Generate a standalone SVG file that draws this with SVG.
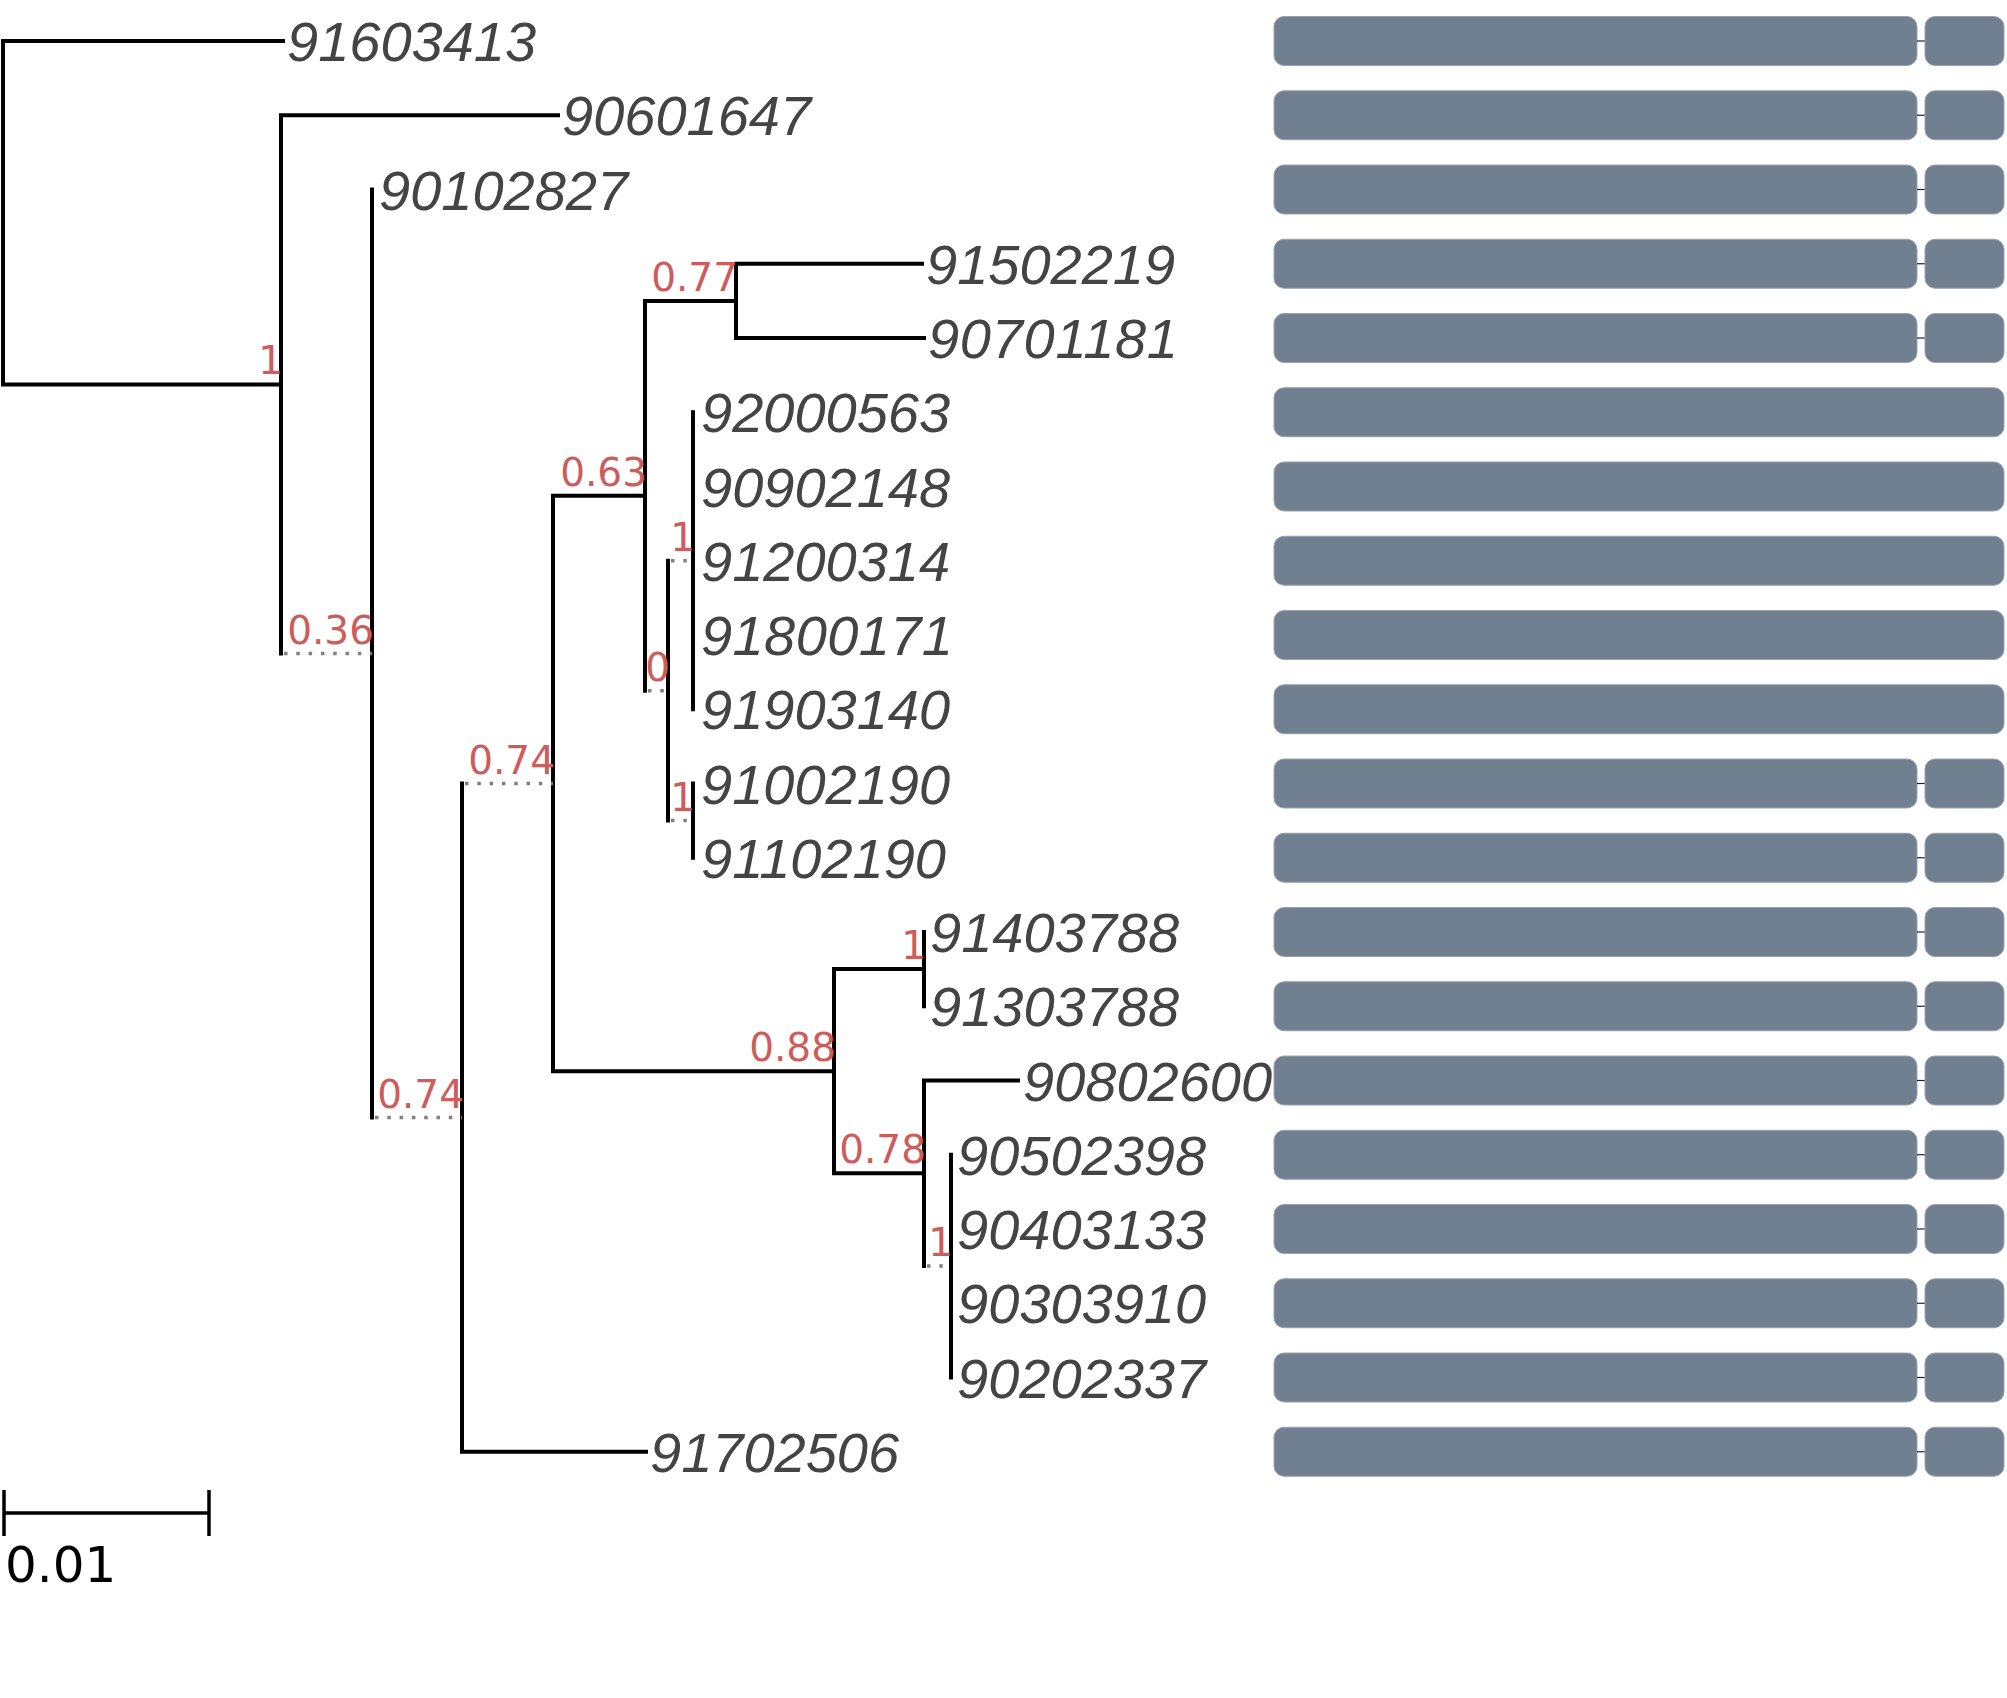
<svg xmlns="http://www.w3.org/2000/svg" width="2007" height="1698" viewBox="0 0 2007 1698">
<style>
.br{fill:none;stroke:#000;stroke-width:4;stroke-linecap:square}
.dt{fill:none;stroke:#808080;stroke-width:3.5;stroke-dasharray:3.5 8.8}
.lf{font-family:"Liberation Sans",Arial,sans-serif;font-style:italic;font-size:56px;fill:#444}
.sp{font-family:"DejaVu Sans",sans-serif;font-size:39px;fill:#cd5c5c;text-anchor:end}
.bar{fill:#708090;stroke:#9aa3ad;stroke-width:1}
.lnk{stroke:#222;stroke-width:1.2}
.sc{font-family:"DejaVu Sans",sans-serif;font-size:50px;fill:#000}
</style>
<rect width="2007" height="1698" fill="#fff"/>
<g id="connectors">
<path class="br" d="M3,41V384.4M3,41H283M3,384.4H281M281,115.25V653.6M281,115.25H558M372,189.5V1117.6M462,783.5V1451.75M462,1451.75H646M553,495.8V1071.2M553,495.8H645M645,300.9V690.7M645,300.9H736M736,263.75V338M736,263.75H922M736,338H924M668,560.75V820.6M693,412.25V709.25M693,783.5V857.75M553,1071.2H834M834,969.1V1173.3M834,969.1H924M924,932V1006.25M834,1173.3H924M924,1080.5V1266.1M924,1080.5H1018M951,1154.75V1377.5"/>
<path class="dt" d="M284,653.6H372M375,1117.6H462M465,783.5H553M648,690.7H668M671,560.75H693M671,820.6H693M927,1266.1H951"/>
</g>
<g id="support">
<text class="sp" x="283" y="374">1</text>
<text class="sp" x="374" y="643.6">0.36</text>
<text class="sp" x="464" y="1107.6">0.74</text>
<text class="sp" x="555" y="773.5">0.74</text>
<text class="sp" x="647" y="485.8">0.63</text>
<text class="sp" x="738" y="290.9">0.77</text>
<text class="sp" x="670" y="680.7">0</text>
<text class="sp" x="695" y="550.75">1</text>
<text class="sp" x="695" y="810.6">1</text>
<text class="sp" x="836" y="1061">0.88</text>
<text class="sp" x="926" y="959">1</text>
<text class="sp" x="926" y="1163">0.78</text>
<text class="sp" x="953" y="1256">1</text>
</g>
<g id="leaf-91603413"><text class="lf" x="287" y="61">91603413</text><rect class="bar" x="1274" y="16.5" width="643" height="49" rx="10"/><line class="lnk" x1="1917" y1="41" x2="1925" y2="41"/><rect class="bar" x="1925" y="16.5" width="79" height="49" rx="10"/></g>
<g id="leaf-90601647"><text class="lf" x="562" y="135.25">90601647</text><rect class="bar" x="1274" y="90.75" width="643" height="49" rx="10"/><line class="lnk" x1="1917" y1="115.25" x2="1925" y2="115.25"/><rect class="bar" x="1925" y="90.75" width="79" height="49" rx="10"/></g>
<g id="leaf-90102827"><text class="lf" x="379" y="209.5">90102827</text><rect class="bar" x="1274" y="165" width="643" height="49" rx="10"/><line class="lnk" x1="1917" y1="189.5" x2="1925" y2="189.5"/><rect class="bar" x="1925" y="165" width="79" height="49" rx="10"/></g>
<g id="leaf-91502219"><text class="lf" x="926" y="283.75">91502219</text><rect class="bar" x="1274" y="239.25" width="643" height="49" rx="10"/><line class="lnk" x1="1917" y1="263.75" x2="1925" y2="263.75"/><rect class="bar" x="1925" y="239.25" width="79" height="49" rx="10"/></g>
<g id="leaf-90701181"><text class="lf" x="928" y="358" textLength="250" lengthAdjust="spacing">90701181</text><rect class="bar" x="1274" y="313.5" width="643" height="49" rx="10"/><line class="lnk" x1="1917" y1="338" x2="1925" y2="338"/><rect class="bar" x="1925" y="313.5" width="79" height="49" rx="10"/></g>
<g id="leaf-92000563"><text class="lf" x="701" y="432.25">92000563</text><rect class="bar" x="1274" y="387.75" width="730" height="49" rx="10"/></g>
<g id="leaf-90902148"><text class="lf" x="701" y="506.5">90902148</text><rect class="bar" x="1274" y="462" width="730" height="49" rx="10"/></g>
<g id="leaf-91200314"><text class="lf" x="701" y="580.75">91200314</text><rect class="bar" x="1274" y="536.25" width="730" height="49" rx="10"/></g>
<g id="leaf-91800171"><text class="lf" x="701" y="655" textLength="252" lengthAdjust="spacing">91800171</text><rect class="bar" x="1274" y="610.5" width="730" height="49" rx="10"/></g>
<g id="leaf-91903140"><text class="lf" x="701" y="729.25">91903140</text><rect class="bar" x="1274" y="684.75" width="730" height="49" rx="10"/></g>
<g id="leaf-91002190"><text class="lf" x="701" y="803.5">91002190</text><rect class="bar" x="1274" y="759" width="643" height="49" rx="10"/><line class="lnk" x1="1917" y1="783.5" x2="1925" y2="783.5"/><rect class="bar" x="1925" y="759" width="79" height="49" rx="10"/></g>
<g id="leaf-91102190"><text class="lf" x="701" y="877.75">91102190</text><rect class="bar" x="1274" y="833.25" width="643" height="49" rx="10"/><line class="lnk" x1="1917" y1="857.75" x2="1925" y2="857.75"/><rect class="bar" x="1925" y="833.25" width="79" height="49" rx="10"/></g>
<g id="leaf-91403788"><text class="lf" x="930" y="952">91403788</text><rect class="bar" x="1274" y="907.5" width="643" height="49" rx="10"/><line class="lnk" x1="1917" y1="932" x2="1925" y2="932"/><rect class="bar" x="1925" y="907.5" width="79" height="49" rx="10"/></g>
<g id="leaf-91303788"><text class="lf" x="930" y="1026.25">91303788</text><rect class="bar" x="1274" y="981.75" width="643" height="49" rx="10"/><line class="lnk" x1="1917" y1="1006.25" x2="1925" y2="1006.25"/><rect class="bar" x="1925" y="981.75" width="79" height="49" rx="10"/></g>
<g id="leaf-90802600"><text class="lf" x="1023" y="1100.5">90802600</text><rect class="bar" x="1274" y="1056" width="643" height="49" rx="10"/><line class="lnk" x1="1917" y1="1080.5" x2="1925" y2="1080.5"/><rect class="bar" x="1925" y="1056" width="79" height="49" rx="10"/></g>
<g id="leaf-90502398"><text class="lf" x="957" y="1174.75">90502398</text><rect class="bar" x="1274" y="1130.25" width="643" height="49" rx="10"/><line class="lnk" x1="1917" y1="1154.75" x2="1925" y2="1154.75"/><rect class="bar" x="1925" y="1130.25" width="79" height="49" rx="10"/></g>
<g id="leaf-90403133"><text class="lf" x="957" y="1249">90403133</text><rect class="bar" x="1274" y="1204.5" width="643" height="49" rx="10"/><line class="lnk" x1="1917" y1="1229" x2="1925" y2="1229"/><rect class="bar" x="1925" y="1204.5" width="79" height="49" rx="10"/></g>
<g id="leaf-90303910"><text class="lf" x="957" y="1323.25">90303910</text><rect class="bar" x="1274" y="1278.75" width="643" height="49" rx="10"/><line class="lnk" x1="1917" y1="1303.25" x2="1925" y2="1303.25"/><rect class="bar" x="1925" y="1278.75" width="79" height="49" rx="10"/></g>
<g id="leaf-90202337"><text class="lf" x="957" y="1397.5">90202337</text><rect class="bar" x="1274" y="1353" width="643" height="49" rx="10"/><line class="lnk" x1="1917" y1="1377.5" x2="1925" y2="1377.5"/><rect class="bar" x="1925" y="1353" width="79" height="49" rx="10"/></g>
<g id="leaf-91702506"><text class="lf" x="650" y="1471.75">91702506</text><rect class="bar" x="1274" y="1427.25" width="643" height="49" rx="10"/><line class="lnk" x1="1917" y1="1451.75" x2="1925" y2="1451.75"/><rect class="bar" x="1925" y="1427.25" width="79" height="49" rx="10"/></g>
<g id="scale">
<path class="br" style="stroke-linecap:butt;stroke-width:3.5" d="M4,1513H209M4,1490V1536M209,1490V1536"/>
<text class="sc" x="5" y="1582">0.01</text>
</g>
</svg>
